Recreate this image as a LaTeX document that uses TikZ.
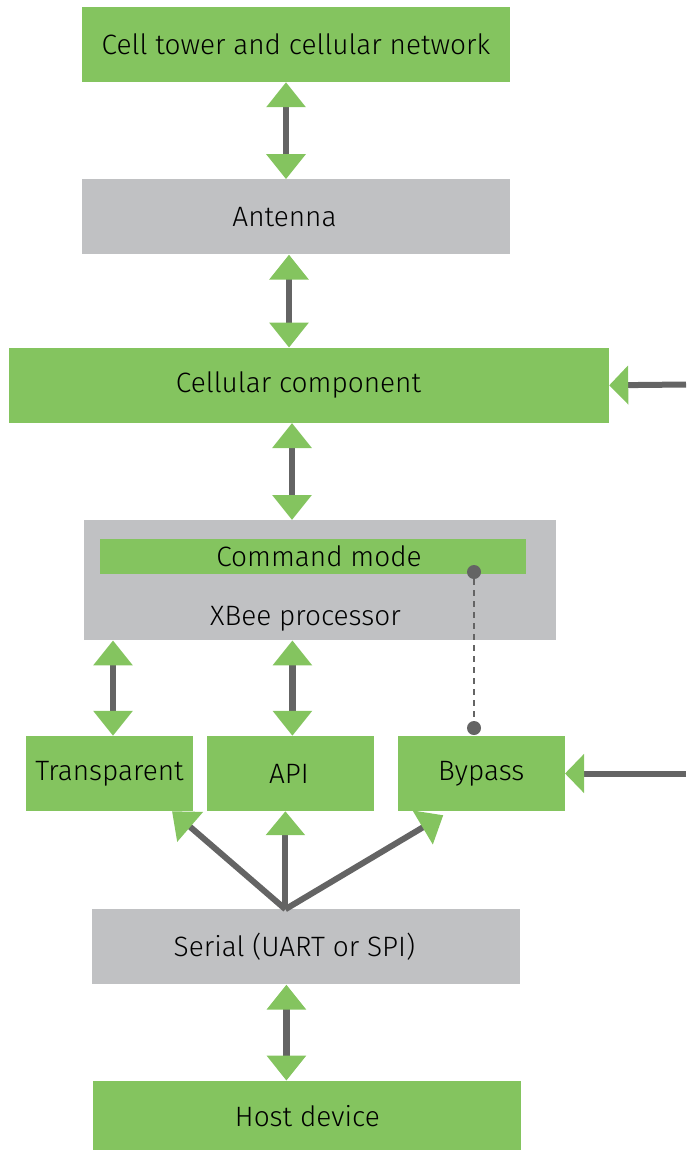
\documentclass[tikz,border=0pt]{standalone}
\usepackage{fontspec}
\setmainfont{Fira Sans}[UprightFont=* Light]
\usetikzlibrary{arrows.meta, positioning}
\definecolor{xbgreen}{HTML}{84C45F}
\definecolor{xbgray}{HTML}{C0C1C3}
\definecolor{xbline}{HTML}{646464}

\begin{document}
\begin{tikzpicture}[x=1pt, y=-1pt,
    block/.style={rectangle, fill=#1, minimum width=428pt, minimum height=75pt,
                  inner sep=0pt, font=\fontsize{28}{32}\selectfont},
    modebox/.style={block=#1, minimum width=167pt},
    plain/.style={inner sep=0pt, font=\fontsize{28}{32}\selectfont},
    link/.style={{Triangle[length=25pt, width=38pt, color=xbgreen]}-{Triangle[length=25pt, width=38pt, color=xbgreen]},
                 line width=6.5pt, xbline},
    feed/.style={-{Triangle[length=19pt, width=38pt, color=xbgreen]}, line width=6pt, xbline},
    fan/.style={-{Triangle[length=24pt, width=38pt, color=xbgreen]}, line width=6pt, xbline},
    tie/.style={line width=2pt, xbline, dash pattern=on 6pt off 5pt},
    dot/.style={circle, fill=xbline, inner sep=0pt, minimum size=14pt}
  ]
    \useasboundingbox (0,0) rectangle (686,1150);

    \node[block=xbgreen] (tower) at (296,44.5) {Cell tower and cellular network};
    \node[block=xbgray, below=97pt of tower, label={[plain, xshift=-11.5pt]center:Antenna}] (antenna) {};
    \node[block=xbgreen, minimum width=600pt, below=93pt of antenna, xshift=13pt,
          label={[plain, xshift=-10.5pt]center:Cellular component}] (cellular) {};
    \node[block=xbgray, minimum width=472pt, minimum height=120pt, below=97pt of cellular, xshift=11pt] (xbee) {};
    \node[block=xbgreen, minimum width=426pt, minimum height=35pt,
          label={[plain, xshift=6pt]center:Command mode}] (command) at (313,556.5) {};
    \node[plain, anchor=base] (xbeetext) at ([xshift=-14.5pt, yshift=15pt]xbee.south) {XBee processor};

    \node[modebox=xbgreen] (transparent) at (109.5,773.5) {Transparent};
    \node[modebox=xbgreen, right=14pt of transparent, label={[plain, xshift=-2pt]center:API}] (api) {};
    \node[modebox=xbgreen, right=23pt of api] (bypass) {Bypass};

    \node[block=xbgray, below=98pt of api, xshift=15.5pt,
          label={[plain, xshift=-12pt]center:Serial (UART or SPI)}] (serial) {};
    \node[block=xbgreen, minimum height=70pt, below=96pt of serial, xshift=1pt] (host) {Host device};

    \node[dot] (cmddot) at (474,572) {};
    \node[dot] (bypassdot) at (474,728) {};
    \coordinate (cellfeed) at (686,384.5);
    \coordinate (bypassfeed) at (686,773.5);

    \draw[link] ([xshift=-10pt]tower.south) -- ([xshift=-10pt]antenna.north);
    \draw[link] ([xshift=-7pt]antenna.south) -- ([xshift=-7pt]antenna.south |- cellular.north);
    \draw[link] ([xshift=-17pt]cellular.south) -- ([xshift=-17pt]cellular.south |- xbee.north);
    \draw[link] (transparent.north |- xbee.south) ++(3.5pt,0) coordinate (tleft) -- (tleft |- transparent.north);
    \draw[link] ([xshift=1.5pt]api.north |- xbee.south) -- ([xshift=1.5pt]api.north);
    \draw[link] ([xshift=-20pt]serial.south) -- ([xshift=-20pt]serial.south |- host.north);

    \draw[tie] (cmddot) -- (bypassdot);
    \draw[feed] (cellfeed) -- (cellular.east);
    \draw[feed] (bypassfeed) -- (bypass.east);

    \draw[fan] ([xshift=-21pt]serial.north) -- ([xshift=62.5pt]transparent.south);
    \draw[fan] ([xshift=-21pt]serial.north) -- ([xshift=-5.5pt]api.south);
    \draw[fan] ([xshift=-21pt]serial.north) -- ([xshift=-38pt,yshift=-4pt]bypass.south);
\end{tikzpicture}
\end{document}
